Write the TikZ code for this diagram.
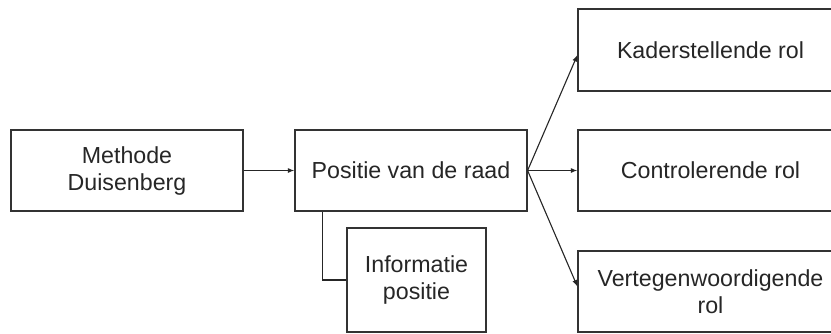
\documentclass[tikz,border=0pt]{standalone}
\usepackage{fontspec}
\setmainfont{Liberation Sans}
\usetikzlibrary{arrows.meta}
\begin{document}
\begin{tikzpicture}[x=1pt,y=-1pt,
  box/.style={draw=black!80, line width=1.2pt, rectangle, inner sep=0pt, align=center,
    font=\fontsize{23.2}{27}\selectfont, text=black!85},
  conn/.style={draw=black!85, line width=1.1pt},
  arr/.style={conn, -{Latex[length=6.5pt,width=5pt]}}]
\useasboundingbox (0,0) rectangle (831,333);
\clip (0,0) rectangle (831,333);
\fill[white] (0,0) rectangle (831,333);
\node[box, minimum width=232pt, minimum height=81pt] (M) at (127,170.5) {Methode\\Duisenberg};
\node[box, minimum width=232pt, minimum height=81pt] (P) at (411,170.5) {Positie van de raad};
\node[box, minimum width=139pt, minimum height=104pt] (I) at (416.5,280) {Informatie\\positie};
\node[box, minimum width=265pt, minimum height=82pt] (K) at (710.5,50) {Kaderstellende rol};
\node[box, minimum width=265pt, minimum height=81pt] (C) at (710.5,170.5) {Controlerende rol};
\node[box, minimum width=265pt, minimum height=81pt] (V) at (710.5,291.5) {Vertegenwoordigende\\rol};
\draw[arr] (M.east) -- (P.west);
\draw[arr] (P.east) -- ([yshift=-5pt]K.west);
\draw[arr] (P.east) -- (C.west);
\draw[arr] (P.east) -- ([yshift=5pt]V.west);
\draw[conn] ([xshift=28pt]P.south west) |- (I.west);
\end{tikzpicture}
\end{document}
